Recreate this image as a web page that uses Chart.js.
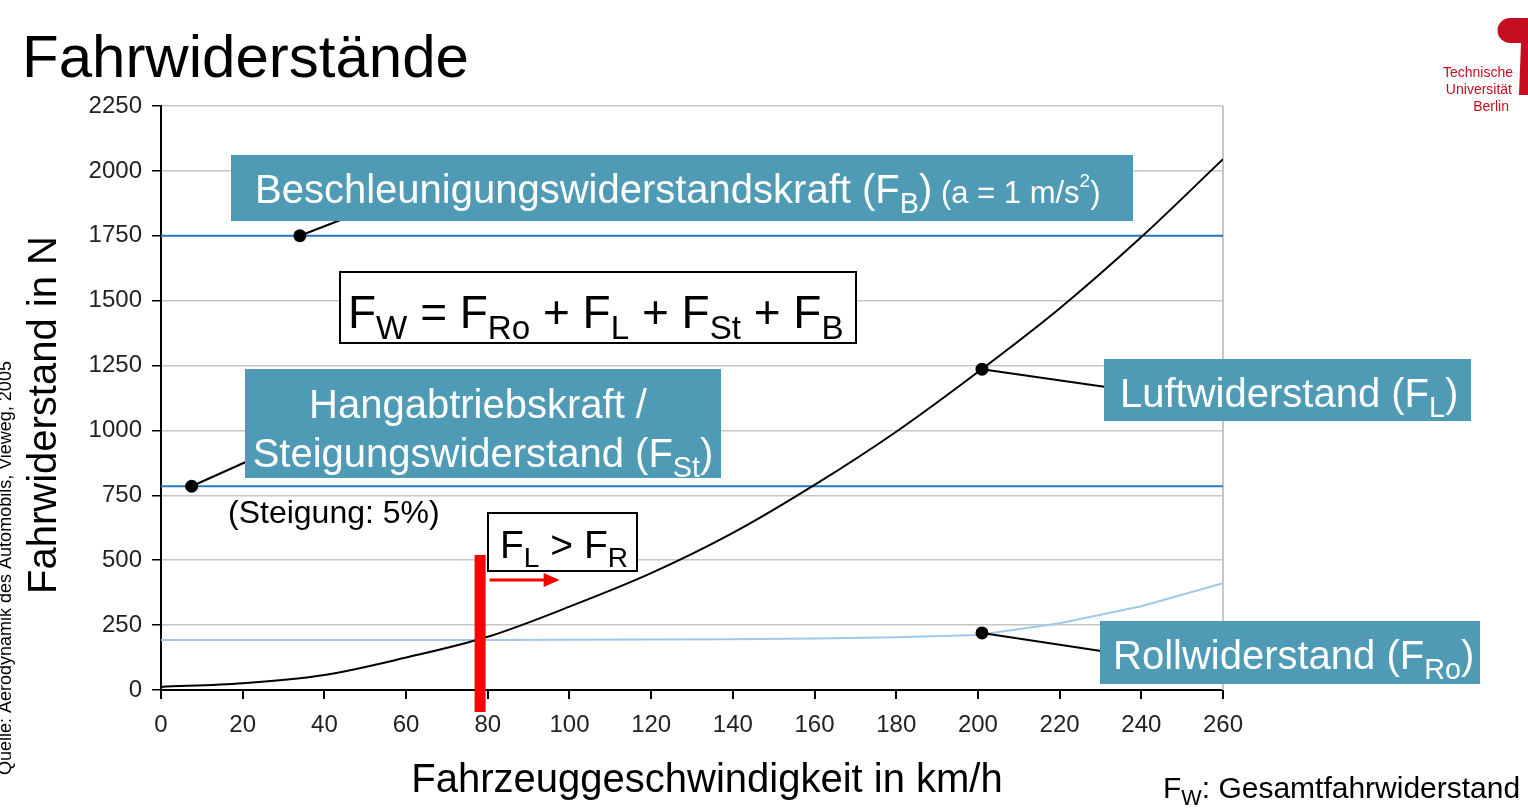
<!DOCTYPE html>
<html>
<head>
<meta charset="utf-8">
<script src="https://cdn.jsdelivr.net/npm/chart.js@4.4.1/dist/chart.umd.min.js"></script>
<style>
  body { margin: 0; background: #fff; }
  #wrap { width: 1528px; height: 811px; }
</style>
</head>
<body>
<div id="wrap"><canvas id="my-chart" width="1528" height="811"></canvas></div>
<script>
// speeds in km/h, forces in N
const speeds = [0, 20, 40, 60, 80, 100, 120, 140, 160, 180, 200, 220, 240, 260];
const airRes = [12, 26, 58, 125, 205, 321, 450, 605, 790, 995, 1225, 1470, 1745, 2045];
const rollRes = [193, 193, 193, 193, 193, 194, 195, 196, 198, 203, 212, 257, 323, 411];
const lineSpeeds = [0, 260];
const accelRes = [1750, 1750];
const gradeRes = [785, 785];
const markerX = [34, 7.5, 201, 201];
const markerY = [1750, 785, 1236, 220];
const crossSpeed = 78;
const yTicks = [0, 250, 500, 750, 1000, 1250, 1500, 1750, 2000, 2250];
const xTicks = [0, 20, 40, 60, 80, 100, 120, 140, 160, 180, 200, 220, 240, 260];

const FONT = '"Liberation Sans", Arial, sans-serif';
const TEAL = 'rgb(79, 155, 182)';

const toPoints = (xs, ys) => xs.map((x, i) => ({ x: x, y: ys[i] }));

// draw text runs with sub/superscripts
function richWidth(ctx, runs, size) {
  let w = 0;
  runs.forEach(([t, mode, own]) => {
    let s = mode === 'sub' ? size * 0.72 : mode === 'sup' ? size * 0.6 : size;
    if (own) s = own;
    ctx.font = `${s}px ${FONT}`;
    w += ctx.measureText(t).width;
  });
  return w;
}
function drawRich(ctx, x, y, runs, size, color, align) {
  if (align === 'center') x -= richWidth(ctx, runs, size) / 2;
  ctx.fillStyle = color;
  ctx.textAlign = 'left';
  ctx.textBaseline = 'alphabetic';
  runs.forEach(([t, mode, own]) => {
    let s = mode === 'sub' ? size * 0.72 : mode === 'sup' ? size * 0.6 : size;
    if (own) s = own;
    let dy = mode === 'sub' ? size * 0.24 : mode === 'sup' ? -size * 0.4 : 0;
    ctx.font = `${s}px ${FONT}`;
    ctx.fillText(t, x, y + dy);
    x += ctx.measureText(t).width;
  });
}
function box(ctx, x, y, w, h, fill, stroke) {
  ctx.fillStyle = fill;
  ctx.fillRect(x, y, w, h);
  if (stroke) {
    ctx.strokeStyle = stroke;
    ctx.lineWidth = 2;
    ctx.strokeRect(x, y, w, h);
  }
}
function line(ctx, x1, y1, x2, y2, color, w) {
  ctx.beginPath();
  ctx.moveTo(x1, y1);
  ctx.lineTo(x2, y2);
  ctx.strokeStyle = color;
  ctx.lineWidth = w;
  ctx.stroke();
}

const decorations = {
  id: 'decorations',
  beforeDatasetsDraw(chart) {
    const ctx = chart.ctx;
    const xs = chart.scales.x;
    const a = chart.chartArea;
    const xr = xs.getPixelForValue(260);
    line(ctx, xr, a.top, xr, a.bottom, '#c6c6c6', 2);
  },
  afterDatasetsDraw(chart) {
    const ctx = chart.ctx;
    const xs = chart.scales.x, ys = chart.scales.y;
    ctx.save();

    // leader lines from marker dots to labels
    const px = markerX.map(v => xs.getPixelForValue(v));
    const py = markerY.map(v => ys.getPixelForValue(v));
    line(ctx, px[0], py[0], 356, 214, '#000', 2);
    line(ctx, px[1], py[1], 248, 461, '#000', 2);
    line(ctx, px[2], py[2], 1106, 387, '#000', 2);
    line(ctx, px[3], py[3], 1101, 651, '#000', 2);

    // teal labels
    box(ctx, 231, 155, 902, 66, TEAL);
    drawRich(ctx, 255, 203, [['Beschleunigungswiderstandskraft (F'], ['B', 'sub'], [')'], [' (a = 1 m/s', '', 31], ['2', 'sup', 19], [')', '', 31]], 40, '#fff');

    box(ctx, 245, 369, 476, 109, TEAL);
    drawRich(ctx, 478, 418, [['Hangabtriebskraft /']], 40, '#fff', 'center');
    drawRich(ctx, 483, 467, [['Steigungswiderstand (F'], ['St', 'sub'], [')']], 40, '#fff', 'center');

    box(ctx, 1104, 359, 367, 62, TEAL);
    drawRich(ctx, 1120, 407, [['Luftwiderstand (F'], ['L', 'sub'], [')']], 40, '#fff');

    box(ctx, 1100, 621, 380, 63, TEAL);
    drawRich(ctx, 1113, 669, [['Rollwiderstand (F'], ['Ro', 'sub'], [')']], 40, '#fff');

    // formula
    box(ctx, 340, 272, 516, 71, '#fff', '#000');
    drawRich(ctx, 348, 328, [['F'], ['W', 'sub'], [' = F'], ['Ro', 'sub'], [' + F'], ['L', 'sub'], [' + F'], ['St', 'sub'], [' + F'], ['B', 'sub']], 46, '#000');

    drawRich(ctx, 228, 523, [['(Steigung: 5%)']], 32, '#000');

    box(ctx, 488, 513, 149, 58, '#fff', '#000');
    drawRich(ctx, 500, 558, [['F'], ['L', 'sub'], [' > F'], ['R', 'sub']], 39, '#000');

    // F_L > F_R crossing marker
    const xc = xs.getPixelForValue(crossSpeed);
    ctx.fillStyle = '#ff0000';
    ctx.fillRect(xc - 5, 555, 11, 157);
    line(ctx, xc + 10, 580, xc + 68, 580, '#ff0000', 3);
    ctx.beginPath();
    ctx.moveTo(xc + 80, 580);
    ctx.lineTo(xc + 64, 573);
    ctx.lineTo(xc + 64, 587);
    ctx.closePath();
    ctx.fill();
    ctx.restore();
  },
  afterDraw(chart) {
    const ctx = chart.ctx;
    ctx.save();
    drawRich(ctx, 22, 77, [['Fahrwiderstände']], 60, '#000');
    drawRich(ctx, 707, 792, [['Fahrzeuggeschwindigkeit in km/h']], 40, '#000', 'center');
    drawRich(ctx, 1163, 798, [['F'], ['W', 'sub'], [': Gesamtfahrwiderstand']], 30, '#000');

    ctx.save();
    ctx.translate(56, 415);
    ctx.rotate(-Math.PI / 2);
    drawRich(ctx, 0, 0, [['Fahrwiderstand in N']], 40, '#000', 'center');
    ctx.restore();

    ctx.save();
    ctx.translate(11, 775);
    ctx.rotate(-Math.PI / 2);
    drawRich(ctx, 0, 0, [['Quelle: Aerodynamik des Automobils, Vieweg, 2005']], 18, '#000');
    ctx.restore();

    // TU Berlin logo
    ctx.fillStyle = 'rgb(197, 14, 31)';
    ctx.beginPath();
    ctx.moveTo(1510, 18);
    ctx.lineTo(1530, 18);
    ctx.lineTo(1530, 43);
    ctx.lineTo(1510, 43);
    ctx.arc(1510, 30.5, 12.5, Math.PI / 2, Math.PI * 1.5);
    ctx.fill();
    ctx.beginPath();
    ctx.moveTo(1521, 43);
    ctx.lineTo(1530, 43);
    ctx.lineTo(1530, 95);
    ctx.lineTo(1519, 95);
    ctx.closePath();
    ctx.fill();
    ctx.font = `14px ${FONT}`;
    ctx.textAlign = 'right';
    ctx.fillText('Technische', 1513, 77);
    ctx.fillText('Universität', 1512, 94);
    ctx.fillText('Berlin', 1509, 111);
    ctx.restore();
  }
};

const ctx = document.getElementById('my-chart').getContext('2d');
const chart = new Chart(ctx, {
  type: 'line',
  data: {
    datasets: [
      {
        label: 'Marker',
        type: 'scatter',
        data: toPoints(markerX, markerY),
        pointRadius: 6.5,
        pointBackgroundColor: '#000',
        pointBorderWidth: 0,
        showLine: false
      },
      {
        label: 'Luftwiderstand',
        data: toPoints(speeds, airRes),
        borderColor: '#000',
        borderWidth: 2,
        pointRadius: 0,
        cubicInterpolationMode: 'monotone'
      },
      {
        label: 'Rollwiderstand',
        data: toPoints(speeds, rollRes),
        borderColor: 'rgb(160, 200, 232)',
        borderWidth: 2,
        pointRadius: 0,
        tension: 0
      },
      {
        label: 'Beschleunigung',
        data: toPoints(lineSpeeds, accelRes),
        borderColor: 'rgb(40, 120, 190)',
        borderWidth: 2,
        pointRadius: 0
      },
      {
        label: 'Steigung',
        data: toPoints(lineSpeeds, gradeRes),
        borderColor: 'rgb(40, 120, 190)',
        borderWidth: 2,
        pointRadius: 0
      }
    ]
  },
  options: {
    responsive: false,
    animation: false,
    devicePixelRatio: 1,
    layout: { padding: { left: 20, top: 106, right: 305, bottom: 0 } },
    plugins: { legend: { display: false }, tooltip: { enabled: false } },
    scales: {
      x: {
        type: 'linear',
        min: 0,
        max: 260,
        afterFit: s => { s.height = 121; },
        afterBuildTicks: s => { s.ticks = xTicks.map(v => ({ value: v })); },
        grid: { drawOnChartArea: false, drawTicks: true, tickLength: 9, color: '#000', lineWidth: 2 },
        border: { color: '#000', width: 2 },
        ticks: { color: '#222', padding: 12, font: { family: FONT, size: 24 }, maxRotation: 0, callback: v => String(v) }
      },
      y: {
        min: 0,
        max: 2250,
        afterFit: s => { s.width = 141; },
        afterBuildTicks: s => { s.ticks = yTicks.map(v => ({ value: v })); },
        grid: { color: '#c6c6c6', lineWidth: 1.5, tickColor: '#000', tickLength: 9 },
        border: { color: '#000', width: 2 },
        ticks: { color: '#222', padding: 10, font: { family: FONT, size: 24 }, callback: v => String(v) }
      }
    }
  },
  plugins: [decorations]
});
</script>
</body>
</html>
